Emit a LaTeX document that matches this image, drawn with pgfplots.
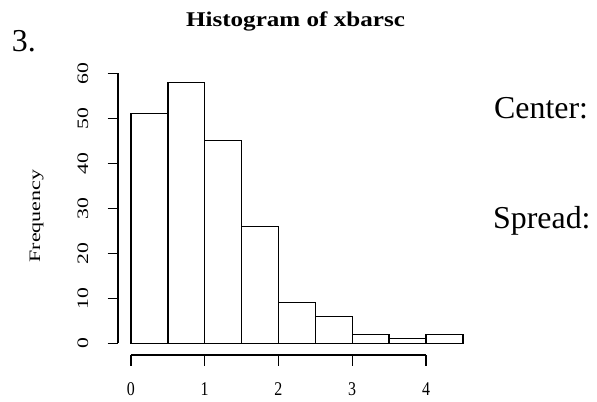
\documentclass[border=0pt]{standalone}
\usepackage{fontspec}
\setmainfont{Liberation Serif}
\usepackage{graphicx}
\usepackage{pgfplots}
\pgfplotsset{compat=1.18}
\begin{document}
\begin{tikzpicture}
\useasboundingbox (0,0) rectangle (597bp,402bp);
\begin{axis}[
  at={(118bp,47bp)}, anchor=south west,
  x=73.75bp, y=4.5bp,
  xmin=-0.176, xmax=4.68, ymin=-2.6, ymax=60.32,
  axis lines*=left,
  axis line style={draw=none},
  clip=false,
  tick align=outside,
  major tick length=10.5bp,
  tick style={black, line width=1.3bp},
  xtick={0,1,2,3,4}, ytick={0,10,...,60},
  xticklabel={\scalebox{1}[1.22]{\pgfmathprintnumber[assume math mode=true]{\tick}}},
  yticklabel={\scalebox{1.36}[1]{\pgfmathprintnumber[assume math mode=true]{\tick}}},
  xticklabel style={font=\fontsize{16}{18}\selectfont, anchor=north, inner sep=0pt},
  yticklabel style={font=\fontsize{16}{18}\selectfont, rotate=90, anchor=south, inner sep=0pt},
  xticklabel shift=17bp, yticklabel shift=19bp,
]
\addplot[ybar interval, draw=black, fill=white, line width=1.3bp] coordinates {(0,51)(0.5,58)(1,45)(1.5,26)(2,9)(2.5,6)(3,2)(3.5,1)(4,2)(4.5,2)};
\addplot[black, line width=1.3bp, forget plot] coordinates {(0,-2.6)(4,-2.6)};
\addplot[black, line width=1.3bp, forget plot] coordinates {(-0.176,0)(-0.176,60)};
\end{axis}
\node[anchor=base, font=\fontsize{21}{24}\selectfont\bfseries] at (295.5bp,375bp) {\scalebox{1.2}[1]{Histogram of xbarsc}};
\node[anchor=base, rotate=90, inner sep=0pt, font=\fontsize{16}{18}\selectfont] at (40bp,186bp) {\scalebox{1.38}[1]{Frequency}};
\node[anchor=base west, inner sep=0pt, font=\fontsize{32}{36}\selectfont] at (11.7bp,350bp) {3.};
\node[anchor=base west, inner sep=0pt, font=\fontsize{32}{36}\selectfont] at (494bp,283.7bp) {Center:};
\node[anchor=base west, inner sep=0pt, font=\fontsize{32}{36}\selectfont] at (493bp,173bp) {Spread:};
\end{tikzpicture}
\end{document}
